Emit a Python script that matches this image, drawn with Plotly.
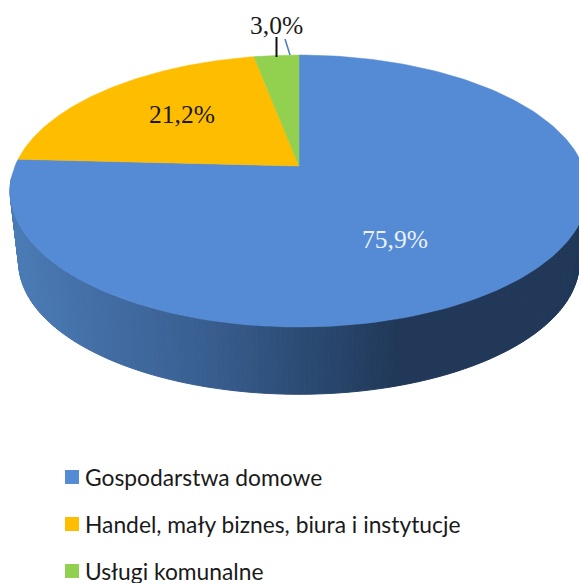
import numpy as np
import plotly.graph_objects as go

# data
categories = ["Gospodarstwa domowe", "Handel, mały biznes, biura i instytucje", "Usługi komunalne"]
shares = [75.9, 21.2, 3.0]
share_labels = ["75,9%", "21,2%", "3,0%"]
colors = ["#558AD5", "#FFBD00", "#92D050"]

# perspective of the pie disc, in page pixels
PERSP = 0.184
TOP = dict(cx=299, cy=166, a=284, b=131.4)
BOTTOM = dict(cx=299, cy=238, a=275.5, b=127.5)


def project(theta_deg, cx, cy, a, b):
    t = np.radians(theta_deg)
    w = 1 + PERSP * np.cos(t)
    return cx + a * np.sin(t) / w, cy - b * np.cos(t) / w


def wall_color(x):
    stops = [15, 100, 200, 300, 400, 600]
    r = np.interp(x, stops, [76, 67, 58, 44, 33, 34])
    g = np.interp(x, stops, [124, 110, 96, 76, 56, 57])
    b = np.interp(x, stops, [182, 165, 146, 117, 88, 90])
    return "rgb(%d,%d,%d)" % (r, g, b)


fig = go.Figure()

# side wall, narrow strips for the gradient
steps = np.arange(95, 265, 1.0)
for t0 in steps:
    t1 = t0 + 1.0
    x0, y0 = project(t0, **TOP)
    x1, y1 = project(t1, **TOP)
    x2, y2 = project(t1, **BOTTOM)
    x3, y3 = project(t0, **BOTTOM)
    col = wall_color((x0 + x1 + x2 + x3) / 4)
    fig.add_trace(go.Scatter(x=[x0, x1, x2, x3, x0], y=[y0, y1, y2, y3, y0], mode="lines",
                             fill="toself", fillcolor=col, line=dict(color=col, width=1),
                             hoverinfo="skip", showlegend=False))

# top face
start = 0.0
total = sum(shares)
for name, share, col in zip(categories, shares, colors):
    end = start + 360.0 * share / total
    arc = np.linspace(start, end, 200)
    ax, ay = project(arc, **TOP)
    fig.add_trace(go.Scatter(x=[TOP["cx"], *ax, TOP["cx"]], y=[TOP["cy"], *ay, TOP["cy"]], mode="lines",
                             fill="toself", fillcolor=col, line=dict(color=col, width=0.5),
                             name=name, text=name, hoverinfo="text", showlegend=False))
    start = end

# legend drawn by hand, the gaps are wider than a plotly legend allows
legend_y = [477, 524, 571]
fig.add_trace(go.Scatter(x=[72, 72, 72], y=legend_y, mode="markers",
                         marker=dict(symbol="square", size=14, color=colors, line=dict(width=0)),
                         hoverinfo="skip", showlegend=False))
for name, y in zip(categories, legend_y):
    fig.add_annotation(x=83, y=y, text=name, showarrow=False, xanchor="left", yanchor="middle",
                       font=dict(family="Lato", size=22.8, color="#1a1a1a"))

label_pos = [(395, 239, "#EAF1FB"), (182, 114, "#1a1a1a"), (276, 25, "#1a1a1a")]
for txt, (x, y, col) in zip(share_labels, label_pos):
    fig.add_annotation(x=x, y=y, text=txt, showarrow=False, xanchor="center", yanchor="middle",
                       font=dict(family="Liberation Serif", size=25.5, color=col))

# leader lines of the 3,0% label
fig.add_shape(type="line", x0=276.5, y0=37, x1=276.5, y1=57, line=dict(color="#111111", width=2))
fig.add_shape(type="line", x0=285, y0=39, x1=290, y1=55, line=dict(color="#4A7EBB", width=1.5))

fig.update_xaxes(range=[0, 579], visible=False)
fig.update_yaxes(range=[583, 0], visible=False)
fig.update_layout(width=579, height=583, margin=dict(l=0, r=0, t=0, b=0),
                  paper_bgcolor="white", plot_bgcolor="white", showlegend=False)

# the page's default body margin would push the chart 8px in
fig.write_html("out.html", config=dict(displayModeBar=False),
               post_script="document.body.style.margin='0';document.documentElement.style.overflow='hidden';")
